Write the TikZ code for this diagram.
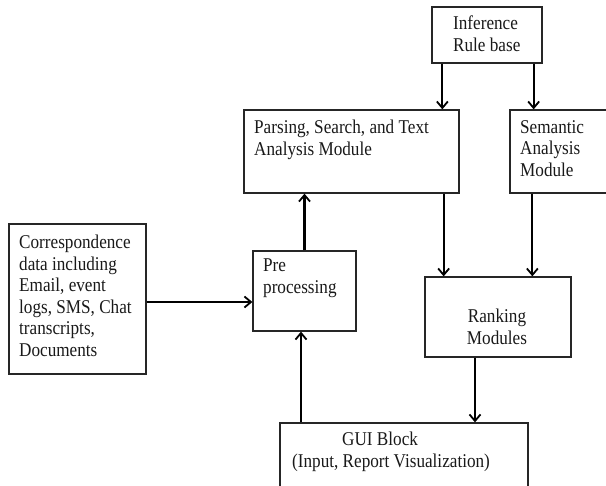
\documentclass[tikz,border=0pt]{standalone}
\usepackage{fontspec}
\setmainfont{Liberation Serif}[FakeStretch=0.88]
\usetikzlibrary{arrows.meta}
\begin{document}
\begin{tikzpicture}[x=1pt,y=-1pt,
  box/.style={draw=black!85,line width=1.3pt,rectangle,inner sep=0pt},
  txt/.style={inner sep=0pt,font=\fontsize{19.5pt}{21.5pt}\selectfont,text=black!90},
  arr/.style={line width=2.2pt,-{Straight Barb[length=6.5pt,width=11pt,line width=1.8pt]}}]
\useasboundingbox (0,0) rectangle (606,486);
\clip (0,0) rectangle (606,486);
% boxes
\node[box,minimum width=110pt,minimum height=56pt] (inf) at (487,35) {};
\node[box,minimum width=215pt,minimum height=83pt] (parse) at (351.5,151.5) {};
\node[box,minimum width=110pt,minimum height=83pt] (sem) at (565,151.5) {};
\node[box,minimum width=137pt,minimum height=150pt] (corr) at (77.5,299) {};
\node[box,minimum width=103pt,minimum height=80pt] (pre) at (304.5,291) {};
\node[box,minimum width=146pt,minimum height=80pt] (rank) at (498,317) {};
\node[box,minimum width=248pt,minimum height=77pt] (gui) at (404,461.5) {};
% texts
\node[txt,align=left,anchor=north west] (tinf) at (453,16) {Inference\\Rule base};
\node[txt,align=left,anchor=north west] (tparse) at (254,120) {Parsing, Search, and Text\\Analysis Module};
\node[txt,align=left,anchor=north west] (tsem) at (520,120) {Semantic\\Analysis\\Module};
\node[txt,align=left,anchor=north west] (tcorr) at (19,235) {Correspondence\\data including\\Email, event\\logs, SMS, Chat\\transcripts,\\Documents};
\node[txt,align=left,anchor=north west] (tpre) at (263,259) {Pre\\processing};
\node[txt,align=center,anchor=north] (trank) at (497,309) {Ranking\\Modules};
\node[txt,align=left,anchor=north west] (tgui) at (292,432) {\hspace*{50pt}GUI Block\\(Input, Report Visualization)};
% arrows
\draw[arr] ([xshift=11pt]inf.south west) -- ([xshift=11pt]inf.south west |- parse.north);
\draw[arr] ([xshift=-9pt]inf.south east) -- ([xshift=-9pt]inf.south east |- sem.north);
\draw[arr] ([xshift=-16pt]parse.south east) -- ([xshift=-16pt]parse.south east |- rank.north);
\draw[arr] ([xshift=23pt]sem.south west) -- ([xshift=23pt]sem.south west |- rank.north);
\draw[arr] ([yshift=-3pt]corr.east) -- ([yshift=-3pt]corr.east -| pre.west);
\draw[arr] (pre.north) -- (pre.north |- parse.south);
\draw[arr] ([xshift=-3.5pt]pre.south |- gui.north) -- ([xshift=-3.5pt]pre.south);
\draw[arr] ([xshift=-23pt]rank.south) -- ([xshift=-23pt]rank.south |- gui.north);
\end{tikzpicture}
\end{document}
